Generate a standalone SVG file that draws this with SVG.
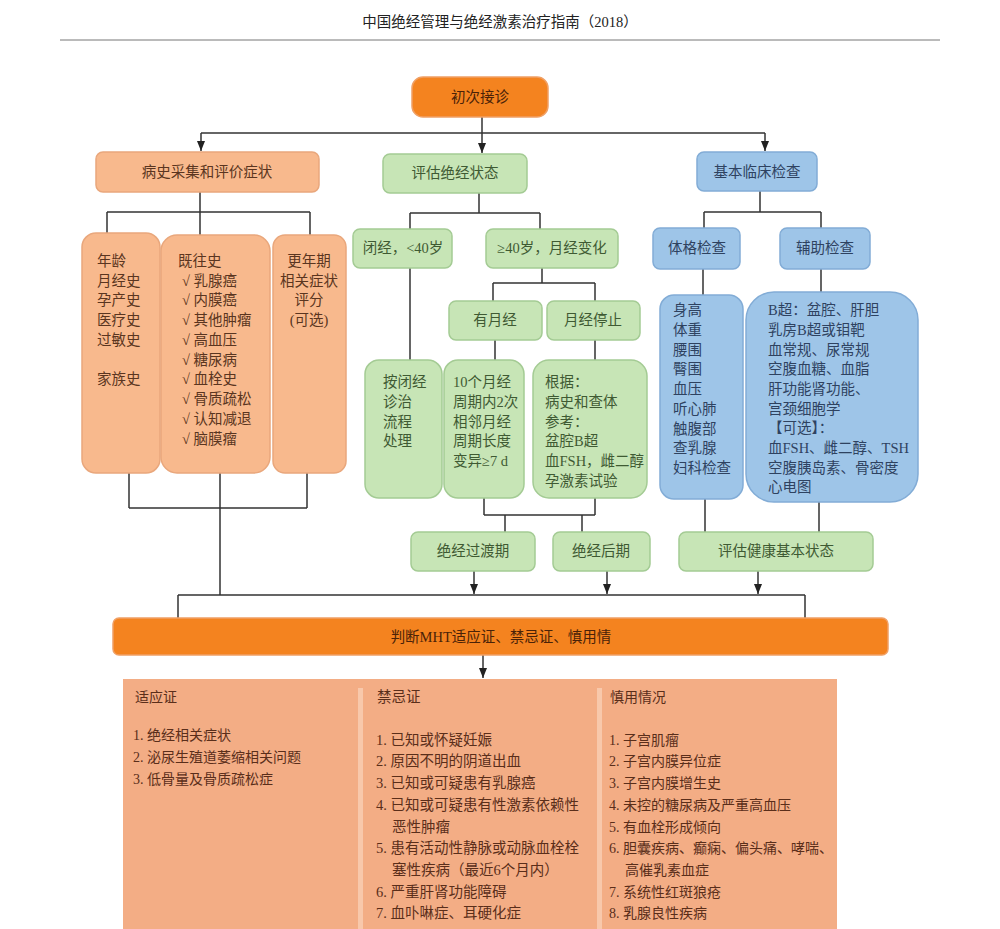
<svg xmlns="http://www.w3.org/2000/svg" width="1000" height="929" viewBox="0 0 1000 929">
<defs>
<marker id="arr" markerUnits="userSpaceOnUse" markerWidth="10" markerHeight="10" viewBox="0 0 10 10" refX="10" refY="5" orient="auto">
<path d="M0,1 L10,5 L0,9 Z" fill="#222"/>
</marker>
<style>
text{font-family:"Liberation Serif","Noto Sans CJK SC",serif;font-size:14.5px;}
.c{text-anchor:middle;}
.peach{fill:#F8B98D;stroke:#E9A77C;stroke-width:1.5;}
.green{fill:#C7E5B6;stroke:#A4CB94;stroke-width:1.5;}
.blue{fill:#9EC5E8;stroke:#82ACD6;stroke-width:1.5;}
.orange{fill:#F4831F;stroke:#F0A065;stroke-width:1.5;}
.tp{fill:#5a3520;}
.tg{fill:#3f5a33;}
.tb{fill:#2e4260;}
.to{fill:#4a2208;}
.tt{fill:#5a2e1a;font-size:14px;}
.tm{fill:#5a2e1a;font-size:14.5px;}
#connectors path{fill:none;stroke:#333;stroke-width:1.5;}
</style>
</defs>
<rect width="1000" height="929" fill="#ffffff"/>
<g id="header">
<text x="500" y="27" class="c" style="font-size:14.5px;fill:#222">中国绝经管理与绝经激素治疗指南（2018）</text>
<line x1="60" y1="40" x2="940" y2="40" stroke="#777" stroke-width="1"/>
</g>
<g id="connectors">
<path d="M482,117 V133"/>
<path d="M201,133 H765"/>
<path d="M201,133 V151" marker-end="url(#arr)"/>
<path d="M482,133 V153" marker-end="url(#arr)"/>
<path d="M765,133 V151" marker-end="url(#arr)"/>
<path d="M200,192 V212 M107,212 H310 M107,212 V233 M200,212 V235 M310,212 V235"/>
<path d="M129,473 V508 M307,473 V508 M129,508 H307 M220,473 V595"/>
<path d="M479,193 V213 M410,213 H540 M410,213 V229 M540,213 V229"/>
<path d="M410,268 V360"/>
<path d="M542,268 V283 M493,283 H595 M493,283 V301 M595,283 V301"/>
<path d="M495,340 V360 M595,340 V360"/>
<path d="M484,498 V515 M595,498 V515 M484,515 H595 M505,515 V532 M582,515 V532"/>
<path d="M760,191 V212 M704,212 H821 M704,212 V228 M821,212 V228"/>
<path d="M703,269 V295 M821,269 V292"/>
<path d="M705,499 V532 M819,502 V532"/>
<path d="M474,571 V594" marker-end="url(#arr)"/>
<path d="M607,571 V594" marker-end="url(#arr)"/>
<path d="M758,571 V594" marker-end="url(#arr)"/>
<path d="M178,595 H805 M178,595 V618 M805,595 V618"/>
<path d="M483,655 V678" marker-end="url(#arr)"/>
</g>
<g id="n-start">
<rect x="412" y="77" width="136" height="40" rx="11" class="orange"/>
<text x="480" y="102" class="c to">初次接诊</text>
</g>
<g id="n-history">
<rect x="96" y="152" width="223" height="40" rx="7" class="peach"/>
<text x="207" y="177" class="c tp">病史采集和评价症状</text>
</g>
<g id="n-assess">
<rect x="383" y="154" width="144" height="39" rx="7" class="green"/>
<text x="455" y="178" class="c tg">评估绝经状态</text>
</g>
<g id="n-basic">
<rect x="697" y="152" width="120" height="39" rx="7" class="blue"/>
<text x="757" y="177" class="c tb">基本临床检查</text>
</g>
<g id="n-age">
<rect x="82" y="233" width="78" height="240" rx="14" class="peach"/>
<text class="tp"><tspan x="97" y="266">年龄</tspan><tspan x="97" y="286">月经史</tspan><tspan x="97" y="305">孕产史</tspan><tspan x="97" y="325">医疗史</tspan><tspan x="97" y="345">过敏史</tspan><tspan x="97" y="384">家族史</tspan></text>
</g>
<g id="n-past">
<rect x="161" y="235" width="109" height="238" rx="16" class="peach"/>
<text class="tp"><tspan x="178" y="266">既往史</tspan><tspan x="182" y="286">√ 乳腺癌</tspan><tspan x="182" y="305">√ 内膜癌</tspan><tspan x="182" y="325">√ 其他肿瘤</tspan><tspan x="182" y="345">√ 高血压</tspan><tspan x="182" y="365">√ 糖尿病</tspan><tspan x="182" y="384">√ 血栓史</tspan><tspan x="182" y="404">√ 骨质疏松</tspan><tspan x="182" y="424">√ 认知减退</tspan><tspan x="182" y="444">√ 脑膜瘤</tspan></text>
</g>
<g id="n-score">
<rect x="273" y="235" width="73" height="238" rx="12" class="peach"/>
<text class="c tp"><tspan x="309" y="266">更年期</tspan><tspan x="309" y="286">相关症状</tspan><tspan x="309" y="305">评分</tspan><tspan x="309" y="325">(可选)</tspan></text>
</g>
<g id="n-amen">
<rect x="353" y="229" width="99" height="39" rx="7" class="green"/>
<text x="403" y="253" class="c tg">闭经，&lt;40岁</text>
</g>
<g id="n-ge40">
<rect x="486" y="229" width="132" height="39" rx="7" class="green"/>
<text x="552" y="253" class="c tg">≥40岁，月经变化</text>
</g>
<g id="n-menses">
<rect x="449" y="301" width="93" height="39" rx="7" class="green"/>
<text x="495" y="325" class="c tg">有月经</text>
</g>
<g id="n-stop">
<rect x="547" y="301" width="93" height="39" rx="7" class="green"/>
<text x="593" y="325" class="c tg">月经停止</text>
</g>
<g id="n-amen-proc">
<rect x="365" y="360" width="77" height="138" rx="14" class="green"/>
<text class="tg"><tspan x="383" y="387">按闭经</tspan><tspan x="383" y="407">诊治</tspan><tspan x="383" y="427">流程</tspan><tspan x="383" y="446">处理</tspan></text>
</g>
<g id="n-trans-crit">
<rect x="444" y="360" width="80" height="138" rx="14" class="green"/>
<text class="tg"><tspan x="453" y="387">10个月经</tspan><tspan x="453" y="407">周期内2次</tspan><tspan x="453" y="427">相邻月经</tspan><tspan x="453" y="446">周期长度</tspan><tspan x="453" y="466">变异≥7 d</tspan></text>
</g>
<g id="n-post-crit">
<rect x="533" y="360" width="114" height="138" rx="16" class="green"/>
<text class="tg"><tspan x="545" y="387">根据：</tspan><tspan x="545" y="407">病史和查体</tspan><tspan x="545" y="427">参考：</tspan><tspan x="545" y="446">盆腔B超</tspan><tspan x="545" y="466">血FSH，雌二醇</tspan><tspan x="545" y="486">孕激素试验</tspan></text>
</g>
<g id="n-phys">
<rect x="653" y="228" width="87" height="41" rx="7" class="blue"/>
<text x="697" y="253" class="c tb">体格检查</text>
</g>
<g id="n-aux">
<rect x="780" y="228" width="90" height="41" rx="7" class="blue"/>
<text x="825" y="253" class="c tb">辅助检查</text>
</g>
<g id="n-phys-list">
<rect x="660" y="295" width="83" height="204" rx="14" class="blue"/>
<text class="tb"><tspan x="673" y="315">身高</tspan><tspan x="673" y="335">体重</tspan><tspan x="673" y="355">腰围</tspan><tspan x="673" y="374">臀围</tspan><tspan x="673" y="394">血压</tspan><tspan x="673" y="414">听心肺</tspan><tspan x="673" y="434">触腹部</tspan><tspan x="673" y="453">查乳腺</tspan><tspan x="673" y="473">妇科检查</tspan></text>
</g>
<g id="n-aux-list">
<rect x="746" y="292" width="172" height="210" rx="28" class="blue"/>
<text class="tb"><tspan x="768" y="315">B超：盆腔、肝胆</tspan><tspan x="768" y="335">乳房B超或钼靶</tspan><tspan x="768" y="355">血常规、尿常规</tspan><tspan x="768" y="374">空腹血糖、血脂</tspan><tspan x="768" y="394">肝功能肾功能、</tspan><tspan x="768" y="414">宫颈细胞学</tspan><tspan x="768" y="433">【可选】：</tspan><tspan x="768" y="453">血FSH、雌二醇、TSH</tspan><tspan x="768" y="473">空腹胰岛素、骨密度</tspan><tspan x="768" y="492">心电图</tspan></text>
</g>
<g id="n-trans">
<rect x="411" y="532" width="124" height="39" rx="7" class="green"/>
<text x="473" y="556" class="c tg">绝经过渡期</text>
</g>
<g id="n-post">
<rect x="553" y="532" width="97" height="39" rx="7" class="green"/>
<text x="601" y="556" class="c tg">绝经后期</text>
</g>
<g id="n-health">
<rect x="679" y="532" width="194" height="39" rx="7" class="green"/>
<text x="776" y="556" class="c tg">评估健康基本状态</text>
</g>
<g id="n-mht">
<rect x="113" y="618" width="775" height="37" rx="6" class="orange"/>
<text x="501" y="642" class="c to">判断MHT适应证、禁忌证、慎用情</text>
</g>
<g id="n-table">
<rect x="123" y="679" width="714" height="250" fill="#F3AD85"/>
<rect x="358" y="688" width="5" height="241" fill="#F8C8AB"/>
<rect x="597" y="688" width="5" height="241" fill="#F8C8AB"/>
<text class="tt"><tspan x="135" y="702">适应证</tspan><tspan x="133" y="740">1. 绝经相关症状</tspan><tspan x="133" y="762">2. 泌尿生殖道萎缩相关问题</tspan><tspan x="133" y="784">3. 低骨量及骨质疏松症</tspan></text>
<text class="tm"><tspan x="377" y="702">禁忌证</tspan><tspan x="376" y="745">1. 已知或怀疑妊娠</tspan><tspan x="376" y="766">2. 原因不明的阴道出血</tspan><tspan x="376" y="788">3. 已知或可疑患有乳腺癌</tspan><tspan x="376" y="810">4. 已知或可疑患有性激素依赖性</tspan><tspan x="392" y="832">恶性肿瘤</tspan><tspan x="376" y="853">5. 患有活动性静脉或动脉血栓栓</tspan><tspan x="392" y="875">塞性疾病（最近6个月内）</tspan><tspan x="376" y="897">6. 严重肝肾功能障碍</tspan><tspan x="376" y="918">7. 血卟啉症、耳硬化症</tspan></text>
<text class="tt"><tspan x="610" y="702">慎用情况</tspan><tspan x="609" y="745">1. 子宫肌瘤</tspan><tspan x="609" y="766">2. 子宫内膜异位症</tspan><tspan x="609" y="788">3. 子宫内膜增生史</tspan><tspan x="609" y="810">4. 未控的糖尿病及严重高血压</tspan><tspan x="609" y="832">5. 有血栓形成倾向</tspan><tspan x="609" y="853">6. 胆囊疾病、癫痫、偏头痛、哮喘、</tspan><tspan x="625" y="875">高催乳素血症</tspan><tspan x="609" y="897">7. 系统性红斑狼疮</tspan><tspan x="609" y="918">8. 乳腺良性疾病</tspan></text>
</g>
</svg>
